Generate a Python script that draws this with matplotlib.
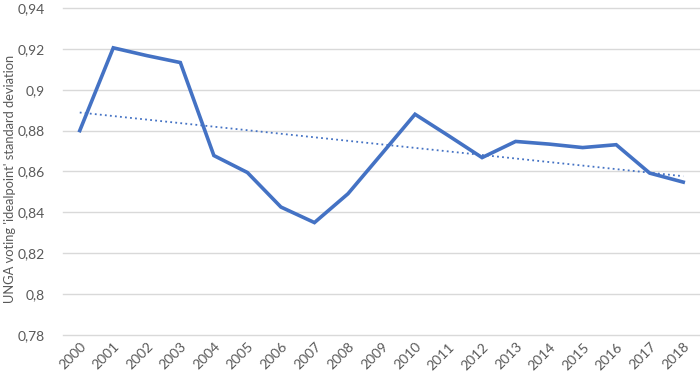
import numpy as np
import matplotlib
matplotlib.use("Agg")
from matplotlib import pyplot as plt
from matplotlib.ticker import FuncFormatter

years = list(range(2000, 2019))
std_dev = [0.8800, 0.9205, 0.9167, 0.9133, 0.8678, 0.8595, 0.8426, 0.8350, 0.8491,
           0.8685, 0.8880, 0.8775, 0.8668, 0.8747, 0.8734, 0.8717, 0.8731, 0.8592, 0.8548]
y_ticks = [0.78, 0.80, 0.82, 0.84, 0.86, 0.88, 0.90, 0.92, 0.94]

blue = "#4472C4"
grey_txt = "#595959"

plt.rcParams["font.family"] = ["Lato", "DejaVu Sans"]

fig = plt.figure(figsize=(7, 3.75), dpi=100)
ax = fig.add_axes([0.09, 0.1067, 0.91, 0.872])

x = np.arange(len(years))
ax.plot(x, std_dev, color=blue, lw=2.6, solid_joinstyle="miter", zorder=3)

# linear trendline
k, b = np.polyfit(x, std_dev, 1)
ax.plot(x, k * x + b, color=blue, lw=1.3, ls=(0, (1, 1.8)), zorder=2)

ax.set_xlim(-0.5, len(years) - 0.5)
ax.set_ylim(0.78, 0.94)
ax.set_yticks(y_ticks)
ax.yaxis.set_major_formatter(FuncFormatter(lambda v, p: ("%g" % round(v, 2)).replace(".", ",")))
ax.set_xticks(x)
ax.set_xticklabels([str(yy) for yy in years], rotation=45, ha="right", va="top",
                   rotation_mode="anchor")
ax.grid(axis="y", color="#D9D9D9", lw=1)
for gl in ax.get_ygridlines():
    gl.set_clip_on(False)
ax.set_axisbelow(True)
for s in ax.spines.values():
    s.set_visible(False)
ax.tick_params(axis="both", length=0, colors=grey_txt, labelsize=10)
ax.tick_params(axis="y", pad=13)
ax.tick_params(axis="x", pad=4)
fig.text(10 / 700, 1 - 179 / 375, "UNGA voting 'idealpoint' standard deviation",
         rotation=90, ha="center", va="center", color=grey_txt, fontsize=9.3)

fig.savefig("out.png", dpi=100)
